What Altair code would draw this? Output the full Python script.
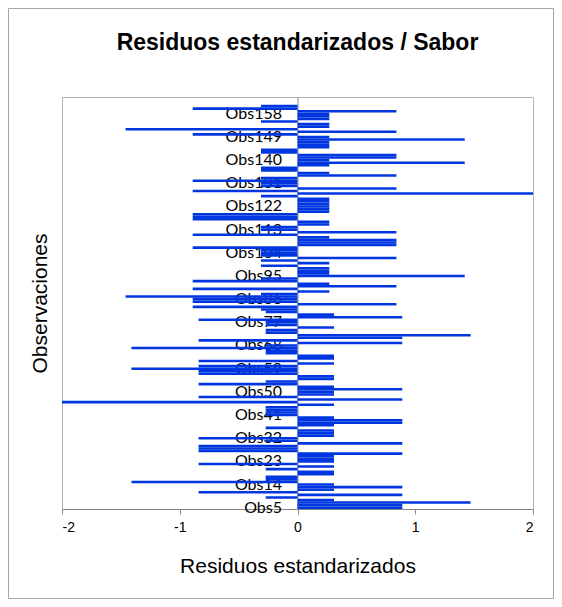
import altair as alt
import pandas as pd

# Observations from top (Obs164) to bottom (Obs5)
obs_numbers = list(range(164, 4, -1))
categories = [f"Obs{n}" for n in obs_numbers]

residuos = [
    None, None, None,
    -0.31, -0.89, 0.84, 0.27, 0.27, 0.27, -0.31, 0.27, 0.27, -1.46,
    0.84, -0.89, 0.27, 1.42, 0.27, 0.27, 0.27, -0.31, -0.31, 0.84,
    0.84, 0.27, 1.42, 0.27, -0.31, -0.31, 0.27, 0.84, -0.31, -0.89,
    -0.31, -0.31, 0.84, -0.89, 2.0, -0.31, 0.27, 0.27, 0.27, 0.27,
    0.27, 0.27, -0.89, -0.89, -0.89, 0.27, 0.27, -0.31, -0.31, 0.84,
    -0.89, 0.27, 0.84, 0.84, 0.84, -0.89, -0.31, -0.31, -0.31, 0.84,
    -0.31, 0.27, -0.31, 0.27, 0.27, 0.27, 1.42, -0.31, -0.89, 0.27,
    0.84, -0.89, 0.27, -0.31, -1.46, -0.89, -0.89, 0.84, -0.89, -0.31,
    -0.27, 0.31, 0.89, -0.84, -0.27, -0.27, 0.31, -0.27, -0.27, 1.47,
    0.89, -0.84, 0.89, -0.27, -1.41, -0.27, -0.27, 0.31, 0.31, -0.84,
    0.31, -0.84, -1.41, -0.84, -0.84, 0.31, 0.31, -0.27, -0.84, 0.31,
    0.89, 0.31, 0.31, -0.84, 0.89, -2.0, 0.31, -0.27, -0.27, -0.27,
    -0.27, 0.31, 0.89, 0.89, 0.31, -0.27, 0.31, 0.31, 0.31, -0.84,
    -0.27, 0.89, -0.84, -0.84, -0.84, 0.89, 0.31, 0.31, 0.31, -0.84,
    0.31, -0.27, 0.31, 0.31, -0.27, -0.27, -1.41, 0.31, 0.89, 0.31,
    -0.84, 0.89, -0.27, 0.31, 1.47, 0.89, 0.89,
]

label_obs = ["Obs5", "Obs14", "Obs23", "Obs32", "Obs41", "Obs50", "Obs59",
             "Obs68", "Obs77", "Obs86", "Obs95", "Obs104", "Obs113",
             "Obs122", "Obs131", "Obs140", "Obs149", "Obs158"]
x_ticks = [-2, -1, 0, 1, 2]

df = pd.DataFrame({"Observacion": categories, "Residuo": residuos})

W, H = 471, 412
PAD = {"left": 54, "top": 89, "right": 21, "bottom": 90}

bars = alt.Chart(df).mark_bar(color="#0036E0").encode(
    x=alt.X(
        "Residuo:Q",
        scale=alt.Scale(domain=[-2, 2], nice=False),
        axis=alt.Axis(
            values=x_ticks, title="Residuos estandarizados", grid=False,
            labelExpr="datum.value < 0 ? '-' + abs(datum.value) : '' + datum.value",
            tickSize=5, domainColor="#868686", tickColor="#868686",
            labelFont="Liberation Sans", labelFontSize=14, labelColor="black",
            labelPadding=6, titleFont="Liberation Sans", titleFontSize=21,
            titleFontWeight="normal", titleColor="black", titlePadding=21,
        ),
    ),
    y=alt.Y(
        "Observacion:N",
        sort=categories,
        scale=alt.Scale(domain=categories, paddingInner=0, paddingOuter=0),
        axis=alt.Axis(
            values=label_obs, offset=-W / 2, ticks=False,
            domainColor="#868686", labelFont="Lato", labelFontSize=16,
            labelColor="black", labelPadding=16, labelOverlap=False,
            title="Observaciones", titleX=-257.5, titleY=206, titleAngle=-90,
            titleAlign="center", titleBaseline="middle",
            titleFont="Liberation Sans", titleFontSize=21,
            titleFontWeight="normal", titleColor="black",
        ),
    ),
)

frame = alt.Chart(pd.DataFrame({"f": [0]})).mark_rect(
    fill=None, stroke="#a6a6a6", strokeWidth=1
).encode(
    x=alt.value(-53.5), x2=alt.value(491.5),
    y=alt.value(-88.5), y2=alt.value(501.5),
)

chart = alt.layer(frame, bars).properties(
    width=W, height=H, padding=PAD,
    autosize=alt.AutoSizeParams(type="none"),
    title=alt.Title(
        "Residuos estandarizados / Sabor", font="Liberation Sans",
        fontSize=23, fontWeight="bold", color="black",
        anchor="middle", frame="group", offset=-47,
    ),
).configure_view(stroke="#b3b3b3")

chart.save("out.html", embed_options={"renderer": "svg", "actions": False})
